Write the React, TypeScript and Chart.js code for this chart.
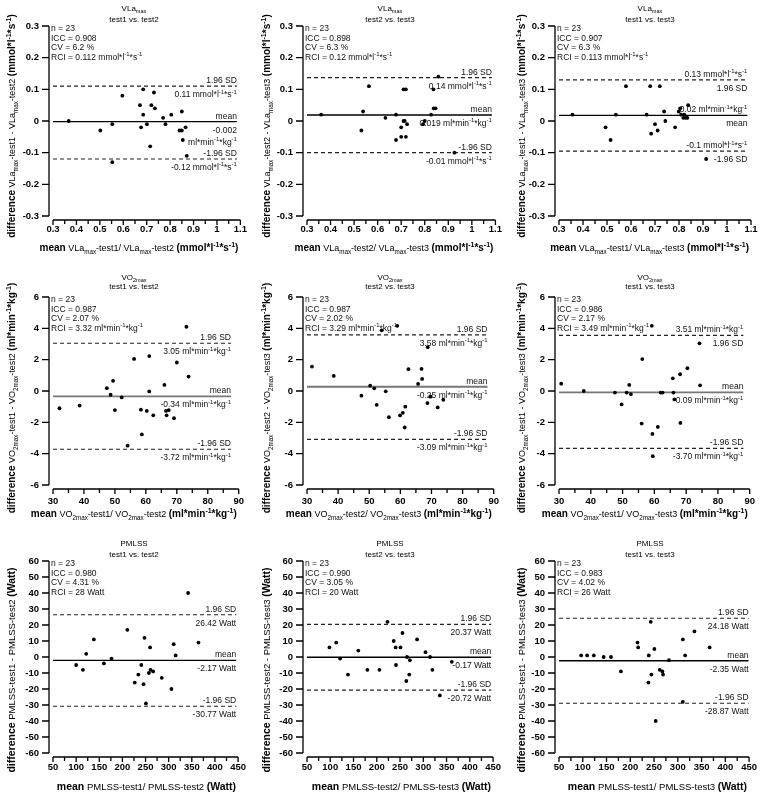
import React, { useEffect, useRef } from 'react';
import { Chart, registerables } from 'chart.js';

Chart.register(...registerables);

// ---------------- data ----------------
const vla12Mean = [0.367, 0.502, 0.553, 0.553, 0.596, 0.671, 0.685, 0.685, 0.676, 0.701, 0.715, 0.72, 0.731, 0.735, 0.77, 0.78, 0.805, 0.84, 0.85, 0.85, 0.854, 0.866, 0.871];
const vla12Diff = [0.0, -0.03, -0.01, -0.13, 0.08, 0.05, 0.1, 0.02, -0.02, -0.01, -0.08, 0.05, 0.09, 0.04, 0.01, -0.01, 0.02, -0.03, -0.03, 0.03, -0.06, -0.02, -0.11];

const vla23Mean = [0.36, 0.538, 0.531, 0.563, 0.633, 0.678, 0.678, 0.7, 0.71, 0.725, 0.7, 0.72, 0.71, 0.72, 0.793, 0.8, 0.827, 0.837, 0.838, 0.846, 0.858, 0.926, 0.715];
const vla23Diff = [0.02, 0.03, -0.03, 0.11, 0.01, 0.02, -0.06, -0.02, 0.0, -0.01, -0.05, -0.05, 0.1, 0.1, -0.01, 0.0, 0.02, 0.1, 0.04, 0.04, 0.14, -0.1, 0.0];

const vla13Mean = [0.356, 0.494, 0.515, 0.537, 0.579, 0.68, 0.72, 0.665, 0.684, 0.7, 0.711, 0.738, 0.743, 0.784, 0.799, 0.805, 0.809, 0.818, 0.828, 0.835, 0.838, 0.913, 0.822];
const vla13Diff = [0.02, -0.02, -0.06, 0.02, 0.11, 0.11, 0.11, 0.02, -0.04, -0.01, -0.03, 0.03, 0.0, -0.02, 0.03, 0.04, 0.02, 0.01, 0.01, 0.01, 0.05, -0.12, 0.02];

const vo12Mean = [32.1, 38.6, 47.4, 50.0, 48.6, 49.4, 52.2, 54.1, 56.2, 58.7, 58.4, 60.3, 61.1, 61.1, 62.4, 66.0, 66.5, 66.7, 67.4, 69.1, 70.0, 73.1, 73.8];
const vo12Diff = [-1.1, -0.93, 0.18, -1.22, -0.24, 0.65, -0.41, -3.49, 2.05, -2.77, -1.19, -1.27, -0.03, 2.23, -1.55, 0.39, -1.27, -1.55, -1.22, -1.74, 1.82, 4.1, 0.92];

const vo23Mean = [31.6, 38.6, 47.5, 50.3, 51.6, 52.4, 54.0, 55.3, 56.3, 59.0, 59.9, 60.8, 61.4, 61.6, 62.6, 65.7, 66.8, 67.0, 68.8, 68.7, 69.7, 72.0, 73.8];
const vo23Diff = [1.56, 0.96, -0.3, 0.34, 0.17, -0.88, 3.87, -0.02, -1.67, 4.16, -1.56, -1.39, -2.33, -1.0, 1.39, 0.45, 1.41, 0.77, 2.8, -0.77, -0.36, -1.05, -0.56];

const vo13Mean = [30.7, 37.8, 47.6, 51.3, 52.1, 52.6, 49.7, 56.2, 56.0, 59.2, 59.4, 59.5, 61.1, 62.0, 62.6, 65.8, 66.0, 66.3, 68.1, 68.2, 70.4, 74.2, 74.4];
const vo13Diff = [0.47, 0.0, -0.1, -0.1, 0.39, -0.2, -0.86, 2.04, -2.08, 4.16, -2.74, -4.16, -2.29, -0.1, -0.1, 0.81, -0.1, -0.54, 1.07, -2.04, 1.46, 3.04, 0.36];

const pm12Mean = [100, 114.7, 121.7, 138.3, 160, 176.6, 210.7, 226.7, 234.4, 240.9, 245.7, 247.8, 250.8, 257.3, 259.9, 260.8, 266.4, 285.1, 306, 310.9, 315, 342, 364.4];
const pm12Diff = [-5, -8, 2, 11, -4, -1, 17, -16, -11, -5, -17, 12, -29, -10, 6, -8, -9, -13, -20, 8, 1, 40, 9];

const pm23Mean = [98.2, 112.8, 121.2, 138, 160.3, 179.8, 205.7, 223.1, 236.4, 240.6, 241.3, 251, 255.2, 265, 263.5, 271.2, 269.8, 286.6, 304.8, 314.6, 319.5, 335.5, 361.3];
const pm23Diff = [6, 9, -1, -11, 4, -8, -8, 22, 10, 6, -5, 6, 15, 0, -15, -2, -11, 11, 3, 0, -8, -24, -3];

const pm13Mean = [96.7, 109.2, 123.2, 144, 159.4, 180.3, 215.2, 216.6, 238.2, 238.9, 243.1, 244.4, 250.7, 253.5, 262, 267.6, 269, 281.4, 310.6, 310.6, 315.5, 335, 367];
const pm13Diff = [1, 1, 1, 0, 0, -9, 9, 6, -16, 1, 22, -11, 5, -40, -8, -9, -11, -2, 11, -28, 1, 16, 6];

const biasValues = [-0.002, 0.019, 0.018, -0.34, 0.27, -0.09, -2.17, -0.17, -2.35];
const upperLimits = [0.11, 0.137, 0.13, 3.05, 3.58, 3.55, 26.42, 20.37, 24.18];
const lowerLimits = [-0.12, -0.1, -0.095, -3.72, -3.09, -3.66, -30.77, -20.72, -28.87];
const lineEnds = [1.085, 1.085, 1.085, 87.5, 88, 88, 446, 446, 449];

const nValues = ['23', '23', '23', '23', '23', '23', '23', '23', '23'];
const iccValues = ['0.908', '0.898', '0.907', '0.987', '0.987', '0.986', '0.980', '0.990', '0.983'];
const cvValues = ['6.2', '6.3', '6.3', '2.07', '2.02', '2.17', '4.31', '3.05', '4.02'];
const rciValues = ['0.112', '0.12', '0.113', '3.32', '3.29', '3.49', '28', '20', '26'];

const pairs = [['test1', 'test2'], ['test2', 'test3'], ['test1', 'test3']];

type Ann = { above: string; below: string[] };
const MM = 'mmol*l^{-1}*s^{-1}';
const ML = 'ml*min^{-1}*kg^{-1}';
const annotations: { upper: Ann; mean: Ann; lower: Ann }[] = [
  { upper: { above: '1.96 SD', below: ['0.11 ' + MM] }, mean: { above: 'mean', below: ['-0.002', ML] }, lower: { above: '-1.96 SD', below: ['-0.12 ' + MM] } },
  { upper: { above: '1.96 SD', below: ['0.14 ' + MM] }, mean: { above: 'mean', below: ['0.019 ' + ML] }, lower: { above: '-1.96 SD', below: ['-0.01 ' + MM] } },
  { upper: { above: '0.13 ' + MM, below: ['1.96 SD'] }, mean: { above: '0.02 ' + ML, below: ['mean'] }, lower: { above: '-0.1 ' + MM, below: ['-1.96 SD'] } },
  { upper: { above: '1.96 SD', below: ['3.05 ' + ML] }, mean: { above: 'mean', below: ['-0.34 ' + ML] }, lower: { above: '-1.96 SD', below: ['-3.72 ' + ML] } },
  { upper: { above: '1.96 SD', below: ['3.58 ' + ML] }, mean: { above: 'mean', below: ['-0.25 ' + ML] }, lower: { above: '-1.96 SD', below: ['-3.09 ' + ML] } },
  { upper: { above: '3.51 ' + ML, below: ['1.96 SD'] }, mean: { above: 'mean', below: ['-0.09 ' + ML] }, lower: { above: '-1.96 SD', below: ['-3.70 ' + ML] } },
  { upper: { above: '1.96 SD', below: ['26.42 Watt'] }, mean: { above: 'mean', below: ['-2.17 Watt'] }, lower: { above: '-1.96 SD', below: ['-30.77 Watt'] } },
  { upper: { above: '1.96 SD', below: ['20.37 Watt'] }, mean: { above: 'mean', below: ['-0.17 Watt'] }, lower: { above: '-1.96 SD', below: ['-20.72 Watt'] } },
  { upper: { above: '1.96 SD', below: ['24.18 Watt'] }, mean: { above: 'mean', below: ['-2.35 Watt'] }, lower: { above: '-1.96 SD', below: ['-28.87 Watt'] } },
];

const meanSeries = [vla12Mean, vla23Mean, vla13Mean, vo12Mean, vo23Mean, vo13Mean, pm12Mean, pm23Mean, pm13Mean];
const diffSeries = [vla12Diff, vla23Diff, vla13Diff, vo12Diff, vo23Diff, vo13Diff, pm12Diff, pm23Diff, pm13Diff];

// ---------------- layout / style ----------------
const FONT = '"Liberation Sans", Arial, Helvetica, sans-serif';
const colX = [0, 255, 510];
const colW = [255, 255, 256];
const colLeft = [53, 52, 49];
const colRight = [245, 243, 241];
const colTitleX = [134, 135, 140];

const rowSpecs = [
  { name: 'VLa_{max}', unit: MM, xMin: 0.3, xMax: 1.1, xStep: 0.1, xMinor: 0.05, yMin: -0.3, yMax: 0.3, yStep: 0.1, y0: 0, h: 265, top: 26, bottom: 216, xPad: 8, titleY: [11, 22], xTitleY: 251, yTitleC: 126, titleNormal: 9, titleBold: 10, meanColor: '#000', meanWidth: 1.3 },
  { name: 'VO_{2max}', unit: ML, xMin: 30, xMax: 90, xStep: 10, xMinor: 5, yMin: -6, yMax: 6, yStep: 2, y0: 265, h: 265, top: 32, bottom: 220, xPad: 11, titleY: [15, 24], xTitleY: 252, yTitleC: 133, titleNormal: 9, titleBold: 10, meanColor: '#777', meanWidth: 1.8 },
  { name: 'PMLSS', unit: 'Watt', xMin: 50, xMax: 450, xStep: 50, xMinor: 25, yMin: -60, yMax: 60, yStep: 10, y0: 530, h: 266, top: 31, bottom: 223, xPad: 9, titleY: [16, 27], xTitleY: 260, yTitleC: 140, titleNormal: 9.5, titleBold: 10.5, meanColor: '#000', meanWidth: 1.3 },
];

// ---------------- rich text ----------------
type Seg = { t: string; b: boolean; p: number };
function parseRich(s: string): Seg[] {
  const out: Seg[] = [];
  let bold = false, pos = 0, buf = '', i = 0;
  const flush = () => { if (buf) out.push({ t: buf, b: bold, p: pos }); buf = ''; };
  while (i < s.length) {
    if (s.startsWith('**', i)) { flush(); bold = !bold; i += 2; continue; }
    if ((s[i] === '_' || s[i] === '^') && s[i + 1] === '{') { flush(); pos = s[i] === '_' ? -1 : 1; i += 2; continue; }
    if (s[i] === '}' && pos !== 0) { flush(); pos = 0; i++; continue; }
    buf += s[i]; i++;
  }
  flush();
  return out;
}
function drawRich(ctx: CanvasRenderingContext2D, s: string, x: number, y: number, align: string, size: number, boldSize = size, color = '#000') {
  const segs = parseRich(s);
  const baseOf = (g: Seg) => (g.b ? boldSize : size);
  const fontOf = (g: Seg) => `${g.b ? 'bold ' : ''}${g.p ? baseOf(g) * 0.7 : baseOf(g)}px ${FONT}`;
  let total = 0;
  const widths = segs.map((g) => { ctx.font = fontOf(g); const w = ctx.measureText(g.t).width; total += w; return w; });
  let cx = align === 'left' ? x : align === 'center' ? x - total / 2 : x - total;
  ctx.textAlign = 'left';
  ctx.textBaseline = 'alphabetic';
  ctx.fillStyle = color;
  segs.forEach((g, k) => {
    const b = baseOf(g);
    const dy = g.p > 0 ? -b * 0.42 : g.p < 0 ? b * 0.28 : 0;
    ctx.font = fontOf(g);
    ctx.fillText(g.t, cx, y + dy);
    cx += widths[k];
  });
}

const fmt = (v: any) => String(parseFloat(Number(v).toFixed(3)));

function Panel({ index }: { index: number }) {
  const ref = useRef<HTMLCanvasElement>(null);
  const row = Math.floor(index / 3);
  const col = index % 3;
  const R = rowSpecs[row];
  const W = colW[col];
  const H = R.h;
  const L = colLeft[col];
  const Rt = colRight[col];

  useEffect(() => {
    const [a, b] = pairs[col];
    const xTitle = `**mean** ${R.name}-${a}/ ${R.name}-${b} **(${R.unit})**`;
    const yTitle = `**difference** ${R.name}-${a} - ${R.name}-${b} **(${R.unit})**`;
    const stats = [`n = ${nValues[index]}`, `ICC = ${iccValues[index]}`, `CV = ${cvValues[index]} %`, `RCI = ${rciValues[index]} ${R.unit}`];
    const ann = annotations[index];
    const lineEnd = lineEnds[index];
    const points = meanSeries[index].map((x, k) => ({ x, y: diffSeries[index][k] }));
    const hline = (v: number) => [{ x: R.xMin, y: v }, { x: lineEnd, y: v }];

    const deco = {
      id: 'deco' + index,
      afterDraw(chart: any) {
        const ctx: CanvasRenderingContext2D = chart.ctx;
        const xs = chart.scales.x, ys = chart.scales.y;
        const ca = chart.chartArea;
        ctx.save();
        ctx.strokeStyle = '#000';
        ctx.lineWidth = 1.3;
        // y axis
        const ax = ca.left - 4;
        ctx.beginPath();
        ctx.moveTo(ax, ys.getPixelForValue(R.yMax));
        ctx.lineTo(ax, ys.getPixelForValue(R.yMin));
        const ny = Math.round((R.yMax - R.yMin) / R.yStep);
        for (let i = 0; i <= ny; i++) {
          const py = ys.getPixelForValue(R.yMin + i * R.yStep);
          ctx.moveTo(ax, py);
          ctx.lineTo(ax - 7, py);
        }
        ctx.stroke();
        // x axis
        const ay = ca.bottom + 4;
        ctx.beginPath();
        ctx.moveTo(xs.getPixelForValue(R.xMin), ay);
        ctx.lineTo(xs.getPixelForValue(R.xMax), ay);
        const nx = Math.round((R.xMax - R.xMin) / R.xMinor);
        for (let i = 0; i <= nx; i++) {
          const px = xs.getPixelForValue(R.xMin + i * R.xMinor);
          ctx.moveTo(px, ay);
          ctx.lineTo(px, ay + (i % 2 === 0 ? 5 : 4));
        }
        ctx.stroke();

        // panel titles
        drawRich(ctx, R.name, colTitleX[col], R.titleY[0], 'center', 8);
        drawRich(ctx, `${a} vs. ${b}`, colTitleX[col], R.titleY[1], 'center', 8);

        // stats
        stats.forEach((s, i) => drawRich(ctx, s, ca.left - 2, ca.top + 5 + i * 9.5, 'left', 8.5, 8.5, '#111'));

        // annotations
        const endPx = xs.getPixelForValue(lineEnd);
        const put = (v: number, an: Ann) => {
          const py = ys.getPixelForValue(v);
          drawRich(ctx, an.above, endPx, py - 3, 'right', 8.5, 8.5, '#111');
          an.below.forEach((t, i) => drawRich(ctx, t, endPx, py + 11 + i * 12, 'right', 8.5, 8.5, '#111'));
        };
        put(upperLimits[index], ann.upper);
        put(biasValues[index], ann.mean);
        put(lowerLimits[index], ann.lower);

        // axis titles
        drawRich(ctx, xTitle, ca.right - 2, R.xTitleY, 'right', R.titleNormal, R.titleBold);
        ctx.save();
        ctx.translate(15, R.yTitleC);
        ctx.rotate(-Math.PI / 2);
        drawRich(ctx, yTitle, 0, 0, 'center', R.titleNormal, R.titleBold);
        ctx.restore();
        ctx.restore();
      },
    };

    const tickFont = { family: FONT, size: 9.5, weight: 'bold' as const };
    const chart = new Chart(ref.current!, {
      type: 'scatter',
      data: {
        datasets: [
          { data: points, pointRadius: 1.9, pointHoverRadius: 1.9, pointStyle: 'circle', backgroundColor: '#000', borderColor: '#000', borderWidth: 0 },
          { data: hline(biasValues[index]), showLine: true, pointRadius: 0, borderColor: R.meanColor, borderWidth: R.meanWidth },
          { data: hline(upperLimits[index]), showLine: true, pointRadius: 0, borderColor: '#222', borderWidth: 1.1, borderDash: [4, 3] },
          { data: hline(lowerLimits[index]), showLine: true, pointRadius: 0, borderColor: '#222', borderWidth: 1.1, borderDash: [4, 3] },
        ],
      },
      options: {
        responsive: false,
        animation: false,
        events: [],
        layout: { padding: { left: 0, top: R.top, right: W - Rt, bottom: 0 } },
        plugins: { legend: { display: false }, tooltip: { enabled: false }, title: { display: false } },
        scales: {
          x: {
            type: 'linear', min: R.xMin, max: R.xMax,
            afterFit: (s: any) => { s.height = H - R.bottom; },
            grid: { display: false, drawTicks: false },
            border: { display: false },
            ticks: { stepSize: R.xStep, padding: R.xPad, font: tickFont, color: '#000', callback: fmt, maxRotation: 0, autoSkip: false },
          },
          y: {
            type: 'linear', min: R.yMin, max: R.yMax,
            afterFit: (s: any) => { s.width = L; },
            grid: { display: false, drawTicks: false },
            border: { display: false },
            ticks: { stepSize: R.yStep, padding: 14, font: tickFont, color: '#000', callback: fmt, autoSkip: false },
          },
        },
      } as any,
      plugins: [deco],
    });
    return () => chart.destroy();
  }, []);

  return (
    <canvas
      ref={ref}
      width={W}
      height={H}
      style={{ position: 'absolute', left: colX[col], top: R.y0, width: W, height: H }}
    />
  );
}

export default function App() {
  return (
    <div style={{ position: 'absolute', left: 0, top: 0, width: 766, height: 796, background: '#fff' }}>
      {[0, 1, 2, 3, 4, 5, 6, 7, 8].map((i) => (
        <Panel key={i} index={i} />
      ))}
    </div>
  );
}
